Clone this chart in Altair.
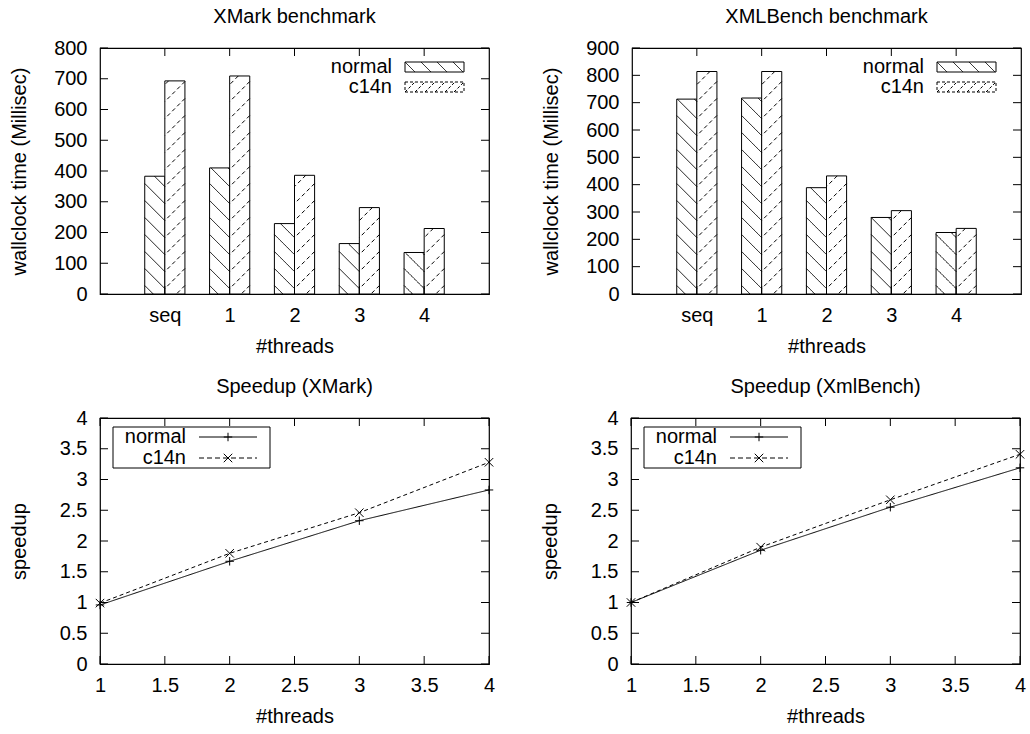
import altair as alt
import pandas as pd

# ---------------- data ----------------
categories = ["seq", "1", "2", "3", "4"]
series = ["normal", "c14n"]

xmark_normal = [383, 410, 229, 164, 135]
xmark_c14n = [693, 709, 386, 281, 213]
xmlbench_normal = [713, 717, 389, 280, 225]
xmlbench_c14n = [814, 814, 432, 305, 240]

threads = [1, 2, 3, 4]
speedup_xmark_normal = [0.96, 1.67, 2.33, 2.83]
speedup_xmark_c14n = [0.99, 1.80, 2.46, 3.28]
speedup_xml_normal = [1.00, 1.85, 2.55, 3.19]
speedup_xml_c14n = [1.00, 1.90, 2.67, 3.41]

yticks_xmark = [0, 100, 200, 300, 400, 500, 600, 700, 800]
yticks_xml = [0, 100, 200, 300, 400, 500, 600, 700, 800, 900]
speed_yticks = [0, 0.5, 1, 1.5, 2, 2.5, 3, 3.5, 4]
speed_xticks = [1, 1.5, 2, 2.5, 3, 3.5, 4]

# ---------------- style ----------------
FONT = "Liberation Sans"
FS = 20
W, H = 389, 246
TK = 8            # inward tick length (px)
BW = 0.31         # bar width in category units
HATCH_PX = 17     # hatch spacing (px)
BAR_DASH = [3, 2]
HATCH_DASH = [4, 3]
LINE_DASH = [5, 3]

X_AXIS_STYLE = dict(ticks=False, domain=False, grid=False, labelPadding=27, labelBaseline="alphabetic",
                    titleY=58, titleBaseline="alphabetic", labelFlush=False)
Y_AXIS_STYLE = dict(ticks=False, domain=False, grid=False, labelPadding=13,
                    titleX=-75, titleY=H / 2, titleBaseline="alphabetic", titleAngle=270)


def tick_layers(xvals, yvals, xscale, yscale, xaxis, yaxis):
    ydf = pd.DataFrame({"v": yvals})
    xdf = pd.DataFrame({"v": xvals})
    by = alt.Chart(ydf).mark_rule(color="black", strokeWidth=1)
    bx = alt.Chart(xdf).mark_rule(color="black", strokeWidth=1)
    return [
        by.encode(x=alt.value(0), x2=alt.value(TK), y=alt.Y("v:Q", scale=yscale, axis=yaxis)),
        by.encode(x=alt.value(W - TK), x2=alt.value(W), y=alt.Y("v:Q", scale=yscale, axis=yaxis)),
        bx.encode(x=alt.X("v:Q", scale=xscale, axis=xaxis), y=alt.value(0), y2=alt.value(TK)),
        bx.encode(x=alt.X("v:Q", scale=xscale, axis=xaxis), y=alt.value(H - TK), y2=alt.value(H)),
    ]


def box_path(w, h, lines):
    r = w / 2.0
    def u(px, py):
        return f"{(px - w / 2.0) / r:.4f},{(py - h / 2.0) / r:.4f}"
    p = f"M{u(0,0)}L{u(w,0)}L{u(w,h)}L{u(0,h)}Z"
    for (x1, y1, x2, y2) in lines:
        p += f"M{u(x1,y1)}L{u(x2,y2)}"
    return p


LEG_W, LEG_H = 59, 10
normal_sample = box_path(LEG_W, LEG_H, [(x, 0, x + 10, 10) for x in (0, 16, 32, 48)])
c14n_sample = box_path(LEG_W, LEG_H, [(x, 10, x + 10, 0) for x in (0, 10, 20, 30, 40, 49)])
PLUS = "M-1,0L1,0M0,-1L0,1"
CROSS = "M-1,-1L1,1M-1,1L1,-1"


def panel_title(text):
    return alt.Title(text, fontSize=FS, fontWeight="normal", font=FONT, color="black", offset=11)


def bar_panel(title, normal, c14n, ymax, yticks):
    rows = []
    for i, c in enumerate(categories):
        rows.append({"idx": i, "cat": c, "series": series[0], "value": normal[i]})
        rows.append({"idx": i, "cat": c, "series": series[1], "value": c14n[i]})
    df = pd.DataFrame(rows)
    xs = alt.Scale(domain=[-1, len(categories)], nice=False, zero=False)
    ys = alt.Scale(domain=[0, ymax], nice=False, zero=True)
    label_expr = "[" + ",".join(f"'{c}'" for c in categories) + "][datum.value]"
    xaxis = alt.Axis(values=list(range(len(categories))), labelExpr=label_expr, title="#threads", **X_AXIS_STYLE)
    yaxis = alt.Axis(values=yticks, title="wallclock time (Millisec)", **Y_AXIS_STYLE)
    D = (BW * W / (len(categories) + 1)) * ymax / H     # vertical drop over bar width (45 deg)
    S = HATCH_PX * ymax / H

    base = alt.Chart(df).transform_calculate(
        x0=f"datum.idx + (datum.series == '{series[0]}' ? -{BW} : 0)",
    ).transform_calculate(
        x1=f"datum.x0 + {BW}",
        zero="0",
    )
    dash = alt.StrokeDash("series:N", scale=alt.Scale(domain=series, range=[[1, 0], BAR_DASH]), legend=None)
    bars = base.mark_rect(fill="white", stroke="black", strokeWidth=1).encode(
        x=alt.X("x0:Q", scale=xs, axis=xaxis),
        x2="x1:Q",
        y=alt.Y("zero:Q", scale=ys, axis=yaxis),
        y2="value:Q",
        strokeDash=dash,
    )
    hatch = base.transform_calculate(
        xa=f"datum.series == '{series[0]}' ? datum.x0 : datum.x1",
        xb=f"datum.series == '{series[0]}' ? datum.x1 : datum.x0",
        k=f"sequence(0, ceil((datum.value + {D}) / {S}) + 1)",
    ).transform_flatten(["k"]).transform_calculate(
        yA=f"datum.k * {S} + {S} * 0.5",
    ).transform_calculate(
        yB=f"datum.yA - {D}",
    ).transform_filter(
        "datum.yA > 0 && datum.yB < datum.value"
    ).transform_calculate(
        sx=f"datum.yA > datum.value ? datum.xa + (datum.xb - datum.xa) * (datum.yA - datum.value) / {D} : datum.xa",
        sy="datum.yA > datum.value ? datum.value : datum.yA",
        ex=f"datum.yB < 0 ? datum.xa + (datum.xb - datum.xa) * datum.yA / {D} : datum.xb",
        ey="datum.yB < 0 ? 0 : datum.yB",
    ).mark_rule(color="black", strokeWidth=1).encode(
        x=alt.X("sx:Q", scale=xs, axis=xaxis),
        x2="ex:Q",
        y=alt.Y("sy:Q", scale=ys, axis=yaxis),
        y2="ey:Q",
        strokeDash=alt.StrokeDash("series:N", scale=alt.Scale(domain=series, range=[[1, 0], HATCH_DASH]), legend=None),
    )
    one = pd.DataFrame({"a": [0]})
    legend = []
    for j, (s, shape, dsh) in enumerate(zip(series, [normal_sample, c14n_sample], [[1, 0], BAR_DASH])):
        yy = 19 + 20 * j
        legend.append(alt.Chart(one).mark_text(align="right", baseline="middle", fontSize=FS, font=FONT,
                                               color="black", text=s).encode(
            x=alt.value(292), y=alt.value(yy)))
        legend.append(alt.Chart(one).mark_point(shape=shape, size=LEG_W ** 2, filled=False, stroke="black",
                                                strokeWidth=1, strokeDash=dsh, opacity=1).encode(
            x=alt.value(305 + LEG_W / 2), y=alt.value(yy)))
    layers = [bars, hatch] + tick_layers(list(range(len(categories))), yticks, xs, ys, xaxis, yaxis) + legend
    return alt.layer(*layers).properties(width=W, height=H, title=panel_title(title))


def speed_panel(title, normal, c14n):
    rows = []
    for i, t in enumerate(threads):
        rows.append({"t": t, "series": series[0], "v": normal[i]})
        rows.append({"t": t, "series": series[1], "v": c14n[i]})
    df = pd.DataFrame(rows)
    xs = alt.Scale(domain=[1, 4], nice=False, zero=False)
    ys = alt.Scale(domain=[0, 4], nice=False, zero=True)
    xaxis = alt.Axis(values=speed_xticks, title="#threads", format="~g", **X_AXIS_STYLE)
    yaxis = alt.Axis(values=speed_yticks, title="speedup", format="~g", **Y_AXIS_STYLE)
    lines = alt.Chart(df).mark_line(color="black", strokeWidth=1).encode(
        x=alt.X("t:Q", scale=xs, axis=xaxis),
        y=alt.Y("v:Q", scale=ys, axis=yaxis),
        detail="series:N",
        strokeDash=alt.StrokeDash("series:N", scale=alt.Scale(domain=series, range=[[1, 0], LINE_DASH]),
                                  legend=None),
    )
    pts = alt.Chart(df).mark_point(filled=False, color="black", strokeWidth=1, size=72, opacity=1).encode(
        x=alt.X("t:Q", scale=xs, axis=xaxis),
        y=alt.Y("v:Q", scale=ys, axis=yaxis),
        shape=alt.Shape("series:N", scale=alt.Scale(domain=series, range=[PLUS, CROSS]), legend=None),
    )
    one = pd.DataFrame({"a": [0]})
    legend = [alt.Chart(one).mark_rect(fill="white", stroke="black", strokeWidth=1).encode(
        x=alt.value(13), x2=alt.value(170), y=alt.value(9), y2=alt.value(50))]
    for j, (s, shape, dsh) in enumerate(zip(series, [PLUS, CROSS], [[1, 0], LINE_DASH])):
        yy = 19 + 21 * j
        legend.append(alt.Chart(one).mark_text(align="right", baseline="middle", fontSize=FS, font=FONT,
                                               color="black", text=s).encode(
            x=alt.value(86), y=alt.value(yy)))
        legend.append(alt.Chart(one).mark_rule(color="black", strokeWidth=1, strokeDash=dsh).encode(
            x=alt.value(99), x2=alt.value(157), y=alt.value(yy)))
        legend.append(alt.Chart(one).mark_point(shape=shape, size=72, filled=False, stroke="black",
                                                strokeWidth=1, opacity=1).encode(
            x=alt.value(128), y=alt.value(yy)))
    layers = [lines, pts] + tick_layers(speed_xticks, speed_yticks, xs, ys, xaxis, yaxis) + legend
    return alt.layer(*layers).properties(width=W, height=H, title=panel_title(title))


p1 = bar_panel("XMark benchmark", xmark_normal, xmark_c14n, 800, yticks_xmark)
p2 = bar_panel("XMLBench benchmark", xmlbench_normal, xmlbench_c14n, 900, yticks_xml)
p3 = speed_panel("Speedup (XMark)", speedup_xmark_normal, speedup_xmark_c14n)
p4 = speed_panel("Speedup (XmlBench)", speedup_xml_normal, speedup_xml_c14n)

top = alt.hconcat(p1, p2, spacing=49)
bottom = alt.hconcat(p3, p4, spacing=43)
chart = alt.vconcat(top, bottom, spacing=19).properties(
    padding={"left": 8, "top": 6, "right": 0, "bottom": 0},
    background="white",
).configure(
    font=FONT,
).configure_view(
    stroke="black", strokeWidth=1.2,
).configure_axis(
    labelFont=FONT, titleFont=FONT, labelFontSize=FS, titleFontSize=FS,
    titleFontWeight="normal", labelColor="black", titleColor="black",
)

chart.save("out.html", embed_options={"renderer": "svg", "actions": False})
